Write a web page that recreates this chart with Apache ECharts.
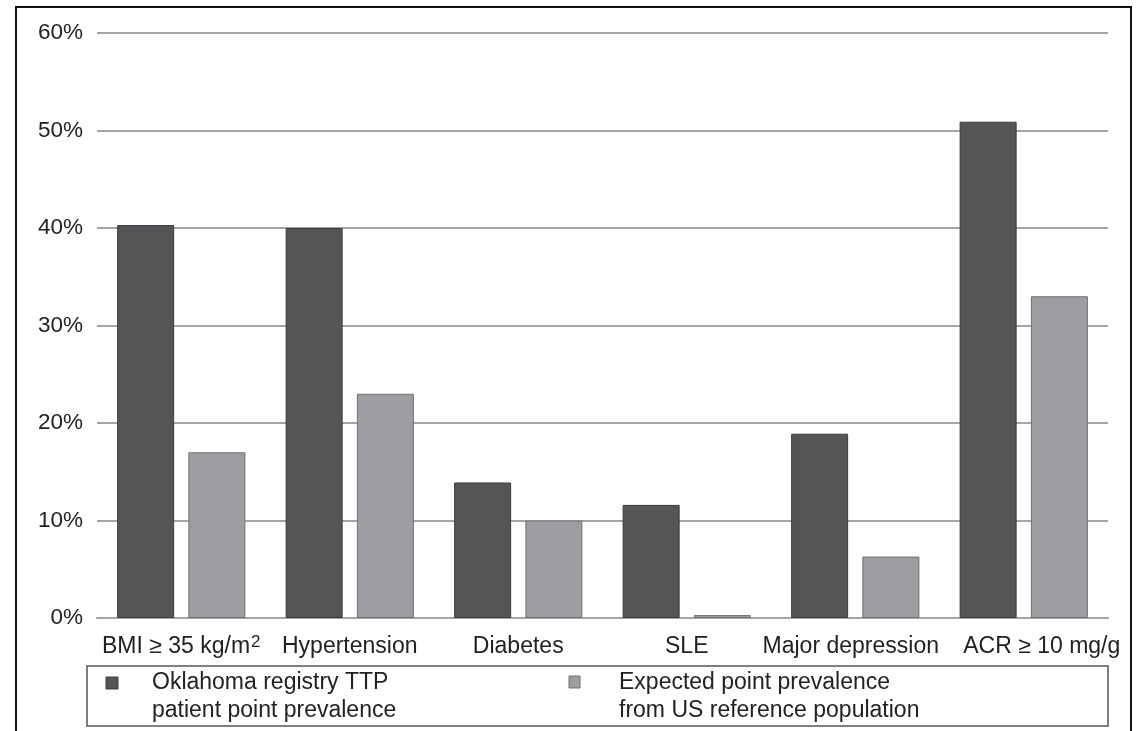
<!DOCTYPE html>
<html>
<head>
<meta charset="utf-8">
<style>
  html, body { margin: 0; padding: 0; background: #fff; }
  #chart { width: 1140px; height: 731px; }
</style>
<script src="https://cdn.jsdelivr.net/npm/echarts@6/dist/echarts.min.js"></script>
</head>
<body>
<div id="chart"></div>
<script>
var categories = ['BMI ≥ 35 kg/m2', 'Hypertension', 'Diabetes', 'SLE', 'Major depression', 'ACR ≥ 10 mg/g'];
var registryValues = [40.3, 40.0, 13.9, 11.6, 18.9, 50.9];
var expectedValues = [17.0, 23.0, 10.0, 0.3, 6.3, 33.0];
var seriesNames = ['Oklahoma registry TTP\npatient point prevalence', 'Expected point prevalence\nfrom US reference population'];
var seriesColors = ['#555558', '#9e9ea2'];

var font = '"Liberation Sans", Arial, Helvetica, sans-serif';
var myChart = echarts.init(document.getElementById('chart'));

// "m2" -> m with superscript 2; nudge the last two labels like the original
function labelFormatter(value, idx) {
    if (/m2$/.test(value)) {
        return '{n|' + value.slice(0, -1) + '}{sup|2}';
    }
    if (idx === categories.length - 1) return '{r|' + value + '}';
    if (idx === categories.length - 2) return '{l|' + value + '}';
    return '{n|' + value + '}';
}

var labelText = { fontSize: 23, fontFamily: font, color: '#222', lineHeight: 26 };

var option = {
    animation: false,
    textStyle: { fontFamily: font },
    grid: { left: 97, right: 32, top: 33, bottom: 113, containLabel: false },
    xAxis: {
        type: 'category',
        data: categories,
        axisTick: { show: false },
        axisLine: { lineStyle: { color: '#a5a5a5', width: 2 } },
        axisLabel: {
            color: '#222', margin: 16, interval: 0,
            formatter: labelFormatter,
            rich: {
                n: labelText,
                l: Object.assign({ padding: [0, 9, 0, 0] }, labelText),
                r: Object.assign({ padding: [0, 0, 0, 36] }, labelText),
                sup: { fontSize: 17, fontFamily: font, color: '#222', lineHeight: 26, verticalAlign: 'top', padding: [0, 0, 9, 1] }
            }
        }
    },
    yAxis: {
        type: 'value',
        min: 0,
        max: 60,
        interval: 10,
        axisLine: { show: false },
        axisTick: { show: false },
        axisLabel: { fontSize: 22.5, color: '#222', margin: 14, fontFamily: font, formatter: '{value}%' },
        splitLine: { lineStyle: { color: '#a5a5a5', width: 2 } }
    },
    series: [
        {
            name: seriesNames[0],
            type: 'bar',
            data: registryValues,
            barWidth: 57,
            barGap: '25%',
            itemStyle: { color: seriesColors[0], borderColor: '#3c3c3e', borderWidth: 1 }
        },
        {
            name: seriesNames[1],
            type: 'bar',
            data: expectedValues,
            barWidth: 57,
            barGap: '25%',
            itemStyle: { color: seriesColors[1], borderColor: '#707074', borderWidth: 1 }
        }
    ],
    graphic: [
        // outer frame
        { type: 'rect', shape: { x: 16, y: 7, width: 1115, height: 740 },
          style: { fill: 'none', stroke: '#111', lineWidth: 2 } },
        // legend box
        { type: 'rect', shape: { x: 87, y: 666, width: 1021, height: 60 },
          style: { fill: 'none', stroke: '#555', lineWidth: 1.5 } },
        { type: 'rect', shape: { x: 106, y: 677, width: 12, height: 12 },
          style: { fill: seriesColors[0], stroke: '#3c3c3e', lineWidth: 1 } },
        { type: 'text', x: 152, y: 669,
          style: { text: seriesNames[0], lineHeight: 28, fill: '#222', font: '23px ' + font } },
        { type: 'rect', shape: { x: 569, y: 676, width: 11, height: 12 },
          style: { fill: seriesColors[1], stroke: '#707074', lineWidth: 1 } },
        { type: 'text', x: 619, y: 669,
          style: { text: seriesNames[1], lineHeight: 28, fill: '#222', font: '23px ' + font } }
    ]
};
myChart.setOption(option);

window.addEventListener('resize', function () {
    myChart.resize();
});
</script>
</body>
</html>
